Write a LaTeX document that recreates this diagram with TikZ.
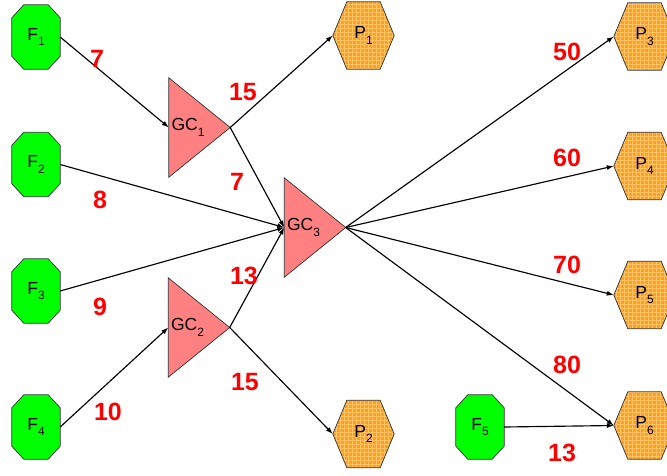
\documentclass[tikz,border=0pt]{standalone}
\usepackage{fontspec}
\setmainfont{Liberation Sans}
\usetikzlibrary{arrows.meta,backgrounds,calc}

\definecolor{feedgreen}{RGB}{0,255,0}
\definecolor{gcred}{RGB}{255,128,128}
\definecolor{prodorange}{RGB}{255,160,30}
\definecolor{prodgrid}{RGB}{255,195,100}
\definecolor{edgegray}{RGB}{50,50,50}

% lowered index after a node name
\newcommand\idx[1]{\raisebox{-5.5pt}{\fontsize{12}{12}\selectfont#1}}

\tikzset{
  box/.style={rectangle, inner sep=0pt, font=\fontsize{17.5}{18}\selectfont},
  feed/.style={box, minimum width=48pt, minimum height=64pt},
  gc/.style={box, minimum height=99pt, text width=56pt, inner xsep=2.5pt, align=left},
  prod/.style={box, minimum width=61pt, minimum height=67pt},
  flow/.style={line width=1.15pt, -{Latex[length=7pt,width=5pt]}},
  qty/.style={text=red, font=\fontsize{25}{25}\selectfont\bfseries},
  shapeline/.style={draw=edgegray, line width=0.7pt},
}

% outlines drawn behind the named boxes
\newcommand\octagonat[1]{%
  \filldraw[shapeline, fill=feedgreen]
    ($(#1.north west)+(0,13)$) -- ($(#1.north west)+(12,0)$) --
    ($(#1.north east)+(-12,0)$) -- ($(#1.north east)+(0,13)$) --
    ($(#1.south east)+(0,-13)$) -- ($(#1.south east)+(-12,0)$) --
    ($(#1.south west)+(12,0)$) -- ($(#1.south west)+(0,-13)$) -- cycle;}
\newcommand\hexpath[1]{(#1.west) -- ($(#1.north west)+(14,0)$) --
    ($(#1.north east)+(-14,0)$) -- (#1.east) --
    ($(#1.south east)+(-14,0)$) -- ($(#1.south west)+(14,0)$) -- cycle}
\newcommand\hexagonat[1]{%
  \begin{scope}
    \path[clip] \hexpath{#1};
    \fill[prodorange] (#1.south west) rectangle (#1.north east);
    \draw[prodgrid, line width=0.35pt, step=4pt] (#1.south west) grid (#1.north east);
  \end{scope}
  \draw[shapeline] \hexpath{#1};}
\newcommand\triangleat[1]{%
  \filldraw[shapeline, fill=gcred] (#1.north west) -- (#1.east) -- (#1.south west) -- cycle;}

\begin{document}
\begin{tikzpicture}[x=1pt, y=-1pt]
  \useasboundingbox (0,0) rectangle (667,475);

  % feeds
  \node[feed] (F1) at (36,37)    {F\idx{1}};
  \node[feed] (F2) at (36,164.5) {F\idx{2}};
  \node[feed] (F3) at (36,291)   {F\idx{3}};
  \node[feed] (F4) at (36,427)   {F\idx{4}};
  \node[feed] (F5) at (480,427)  {F\idx{5}};

  % gas collectors
  \node[gc] (GC1) at (199.5,127.5) {GC\idx{1}};
  \node[gc] (GC2) at (199,327.5)   {GC\idx{2}};
  \node[gc] (GC3) at (315,227.5)   {GC\idx{3}};

  % products
  \node[prod] (P1) at (363.5,35.5) {P\idx{1}};
  \node[prod] (P2) at (363.5,434)  {P\idx{2}};
  \node[prod] (P3) at (644.5,36.5) {P\idx{3}};
  \node[prod] (P4) at (644.5,166)  {P\idx{4}};
  \node[prod] (P5) at (644.5,295)  {P\idx{5}};
  \node[prod] (P6) at (644.5,425.5){P\idx{6}};

  \begin{scope}[on background layer]
    \octagonat{F1} \octagonat{F2} \octagonat{F3} \octagonat{F4} \octagonat{F5}
    \triangleat{GC1} \triangleat{GC2} \triangleat{GC3}
    \hexagonat{P1} \hexagonat{P2} \hexagonat{P3}
    \hexagonat{P4} \hexagonat{P5} \hexagonat{P6}
  \end{scope}

  % flows
  \draw[flow] (F1.east)  -- (GC1.west);
  \draw[flow] (F4.east)  -- (GC2.west);
  \draw[flow] (F2.east)  -- (GC3.west);
  \draw[flow] (F3.east)  -- (GC3.west);
  \draw[flow] (GC1.east) -- (GC3.west);
  \draw[flow] (GC2.east) -- (GC3.west);
  \draw[flow] (GC1.east) -- (P1.west);
  \draw[flow] (GC2.east) -- (P2.west);
  \draw[flow] (GC3.east) -- (P3.west);
  \draw[flow] (GC3.east) -- (P4.west);
  \draw[flow] (GC3.east) -- (P5.west);
  \draw[flow] (GC3.east) -- (P6.west);
  \draw[flow] (F5.east)  -- (P6.west);

  % quantities
  \node[qty] (q1)  at (97,59)   {7};
  \node[qty] (q2)  at (100,200) {8};
  \node[qty] (q3)  at (100,307) {9};
  \node[qty] (q4)  at (108,412) {10};
  \node[qty] (q5)  at (243,92)  {15};
  \node[qty] (q6)  at (237,182) {7};
  \node[qty] (q7)  at (244,276) {13};
  \node[qty] (q8)  at (245,382) {15};
  \node[qty] (q9)  at (567,52)  {50};
  \node[qty] (q10) at (567,158) {60};
  \node[qty] (q11) at (567,265) {70};
  \node[qty] (q12) at (567,365) {80};
  \node[qty] (q13) at (562,453) {13};
\end{tikzpicture}
\end{document}
